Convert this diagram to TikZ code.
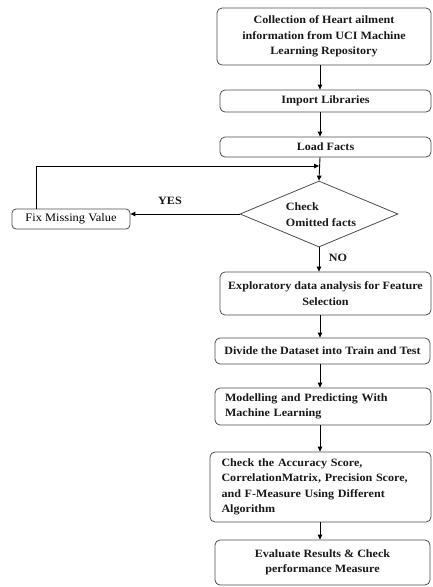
\documentclass[tikz,border=0pt]{standalone}
\usepackage{fontspec}
\setmainfont{Liberation Serif}
\newfontfamily\widefont[FakeStretch=1.08]{Liberation Serif}
\usetikzlibrary{shapes.geometric,arrows.meta}
\begin{document}
\begin{tikzpicture}[x=1pt,y=1pt,
  txt/.style={font=\widefont\fontsize{11.2}{15.5}\selectfont\bfseries, text=black!90},
  box/.style={draw=black!70, line width=0.8pt, rounded corners=5pt, inner sep=2pt, txt, align=center},
  lbox/.style={box, align=left},
  arr/.style={draw=black, line width=0.9pt, -{Triangle[length=5pt,width=4.5pt]}}
]
\useasboundingbox (0,0) rectangle (432,-587);
\node[box, minimum width=214pt, minimum height=57pt] (collect) at (324,-36.5) {Collection of Heart ailment\\information from UCI Machine\\Learning Repository};
\node[box, minimum width=211pt, minimum height=22pt] (import) at (325.5,-101) {Import Libraries};
\node[box, minimum width=211pt, minimum height=20pt] (load) at (325.5,-147) {Load Facts};
\node[draw=black!70, line width=0.8pt, diamond, minimum width=158pt, minimum height=66pt, inner sep=0pt] (dia) at (319,-214) {};
\node[txt, align=left, inner sep=0pt] (diatxt) at (321,-214.5) {Check\\Omitted facts};
\node[draw=black!70, line width=0.8pt, rounded corners=4pt, minimum width=118pt, minimum height=20pt, inner sep=1pt, font=\widefont\fontsize{11.5}{13}\selectfont] (fix) at (71,-219) {Fix Missing Value};
\node[box, minimum width=211pt, minimum height=43pt] (eda) at (325.5,-293.5) {Exploratory data analysis for Feature\\Selection};
\node[box, minimum width=215pt, minimum height=26pt] (divide) at (322.5,-351) {Divide the Dataset into Train and Test};
\node[lbox, minimum width=216pt, minimum height=37pt, text width=196pt] (model) at (323,-406.5) {Modelling and Predicting With\\Machine Learning};
\node[lbox, minimum width=221pt, minimum height=70pt, text width=198pt] (check) at (320.5,-487) {Check the Accuracy Score,\\CorrelationMatrix, Precision Score,\\and F-Measure Using Different\\Algorithm};
\node[box, minimum width=215pt, minimum height=45pt] (eval) at (322.5,-562.5) {Evaluate Results \& Check\\performance Measure};
\coordinate (j) at (320,-166);
\node[txt] (yes) at (170,-201) {YES};
\node[txt] (no) at (338,-258) {NO};
% arrows
\draw[arr] (collect.south -| j) -- (import.north -| j);
\draw[arr] (import.south -| j) -- (load.north -| j);
\draw[arr] (load.south -| j) -- (dia.north);
\draw[arr] ([xshift=25pt]fix.north west) |- ([xshift=-1pt]j);
\draw[arr] (dia.west) -- (dia.west -| fix.east);
\draw[arr] (dia.south) -- (eda.north -| dia.south);
\draw[arr] (eda.south -| j) -- (divide.north -| j);
\draw[arr] (divide.south -| j) -- (model.north -| j);
\draw[arr] (model.south -| j) -- (check.north -| j);
\draw[arr] (check.south -| j) -- (eval.north -| j);
\end{tikzpicture}
\end{document}
